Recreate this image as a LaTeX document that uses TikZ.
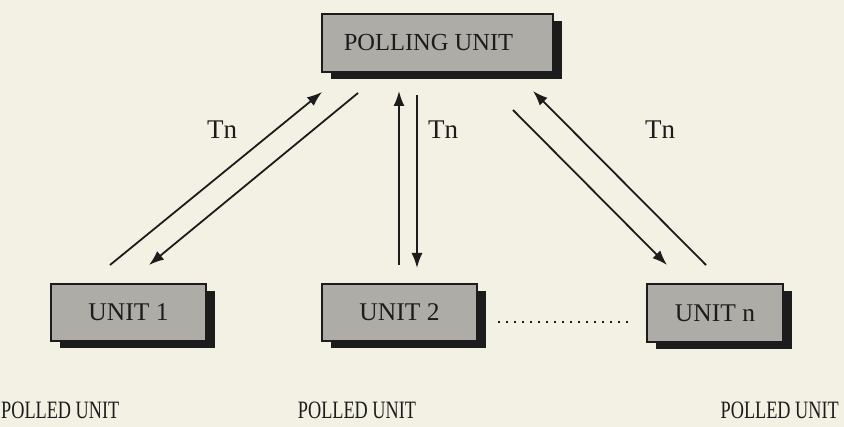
\documentclass[tikz,border=0pt]{standalone}
\usepackage{fontspec}
\setmainfont{Liberation Serif}
\newfontfamily\narrowserif[FakeStretch=0.73]{Liberation Serif}
\usetikzlibrary{shadows,arrows.meta}
\definecolor{paper}{HTML}{F3F1E4}
\definecolor{boxgray}{HTML}{ADACA7}
\definecolor{ink}{HTML}{1C1C1C}
\tikzset{
  unitbox/.style={draw=ink, line width=1.4pt, fill=boxgray, text=ink,
    font=\fontsize{25.5}{27}\selectfont, inner sep=0pt,
    drop shadow={shadow xshift=9pt, shadow yshift=-7pt, fill=ink, opacity=1}},
  link/.style={draw=ink, line width=1.8pt, -{Latex[length=15pt,width=11pt]}},
  tlabel/.style={text=ink, font=\fontsize{27}{29}\selectfont},
  caption/.style={text=ink, font=\narrowserif\fontsize{25}{27}\selectfont, inner sep=0pt}
}
\begin{document}
\begin{tikzpicture}[x=1pt, y=-1pt]
  \fill[paper] (0,0) rectangle (844,427);
  \useasboundingbox (0,0) rectangle (844,427);

  % boxes
  \node[unitbox, minimum width=231pt, minimum height=58pt, font=\fontsize{24.5}{26}\selectfont]
    (poll) at (437.5,43) {POLLING UNIT\hspace*{18pt}};
  \node[unitbox, minimum width=155pt, minimum height=57pt] (u1) at (128.5,312.5) {UNIT 1};
  \node[unitbox, minimum width=155pt, minimum height=57pt] (u2) at (399.5,312.5) {UNIT 2};
  \node[unitbox, minimum width=136pt, minimum height=58pt] (un) at (715,313) {UNIT n};

  % link end points
  \coordinate (a1s) at (110,265);  \coordinate (a1e) at (322,92);
  \coordinate (b1s) at (358,93);   \coordinate (b1e) at (149,265);
  \coordinate (a2s) at (399,265);  \coordinate (a2e) at (399,91);
  \coordinate (b2s) at (417,95);   \coordinate (b2e) at (417,268);
  \coordinate (a3s) at (706,265);  \coordinate (a3e) at (533,91);
  \coordinate (b3s) at (513,110);  \coordinate (b3e) at (667,265);

  \draw[link] (a1s) -- (a1e);
  \draw[link] (b1s) -- (b1e);
  \draw[link] (a2s) -- (a2e);
  \draw[link] (b2s) -- (b2e);
  \draw[link] (a3s) -- (a3e);
  \draw[link] (b3s) -- (b3e);

  % dotted gap between unit 2 and unit n
  \coordinate (d1) at (498,322);
  \coordinate (d2) at (628,322);
  \draw[ink, line width=1.8pt, dash pattern=on 1.8pt off 6.2pt] (d1) -- (d2);

  % labels
  \node[tlabel] (t1) at (222,130) {Tn};
  \node[tlabel] (t2) at (443,130) {Tn};
  \node[tlabel] (t3) at (660,130) {Tn};

  \node[caption, anchor=west] (c1) at (1,410) {POLLED UNIT};
  \node[caption] (c2) at (357,410) {POLLED UNIT};
  \node[caption, anchor=east] (c3) at (839,410) {POLLED UNIT};
\end{tikzpicture}
\end{document}
